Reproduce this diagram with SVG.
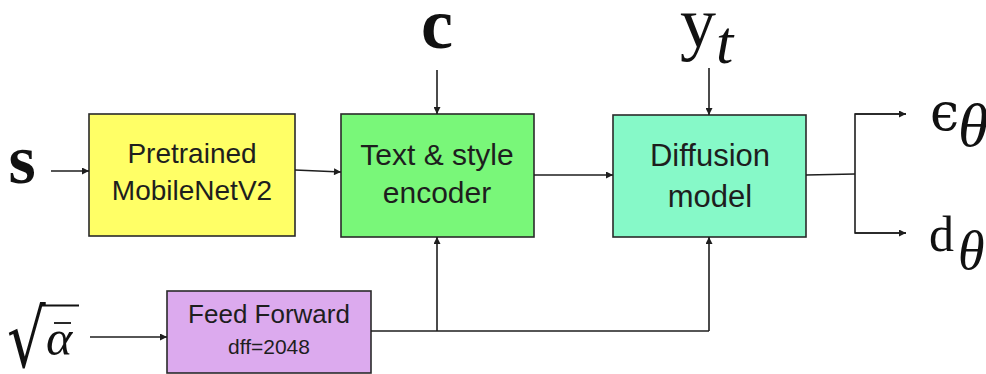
<svg xmlns="http://www.w3.org/2000/svg" width="986" height="374" viewBox="0 0 986 374">
<style>
  .box{stroke:#2a2a2a;stroke-width:1.6}
  .lbl{font-family:"Liberation Sans",Arial,sans-serif;fill:#1e1e1e;text-anchor:middle}
  .math{font-family:"Liberation Serif","DejaVu Serif",serif;fill:#111}
  .conn{fill:none;stroke:#1e1e1e;stroke-width:1.6}
</style>
<defs>
  <marker id="arr" viewBox="0 0 10 10" refX="10" refY="5" markerWidth="8" markerHeight="7" markerUnits="userSpaceOnUse" orient="auto">
    <path d="M0,0 L10,5 L0,10 z" fill="#1e1e1e"/>
  </marker>
</defs>
<rect width="986" height="374" fill="#ffffff"/>

<g id="input-s"><text class="math" x="22" y="183" font-size="70" font-weight="bold" text-anchor="middle">s</text></g>
<g id="input-c"><text class="math" x="437" y="48" font-size="72" font-weight="bold" text-anchor="middle">c</text></g>
<g id="input-yt">
  <text class="math" x="680" y="47" font-size="72">y</text>
  <text class="math" x="716" y="63" font-size="62" font-style="italic">t</text>
</g>
<g id="input-alpha">
  <text transform="translate(7,367) scale(0.76,1)" x="0" y="0" font-family="DejaVu Serif,serif" font-size="80" fill="#111">√</text>
  <line x1="42" y1="305.5" x2="79" y2="305.5" stroke="#111" stroke-width="2"/>
  <text class="math" x="46" y="355" font-size="50" font-style="italic">α</text>
  <line x1="54" y1="323" x2="71" y2="323" stroke="#111" stroke-width="1.8"/>
</g>
<g id="output-eps">
  <text x="930" y="130" font-family="DejaVu Serif,serif" font-size="52" fill="#111">ϵ</text>
  <text class="math" x="958" y="146" font-size="62" font-style="italic">θ</text>
</g>
<g id="output-d">
  <text class="math" x="929" y="251" font-size="50">d</text>
  <text class="math" x="958" y="269" font-size="54" font-style="italic">θ</text>
</g>

<g id="mobilenet">
  <rect class="box" x="89" y="114" width="206" height="122" fill="#ffff66"/>
  <text class="lbl" x="192" y="163" font-size="28">Pretrained</text>
  <text class="lbl" x="192" y="200" font-size="28">MobileNetV2</text>
</g>
<g id="encoder">
  <rect class="box" x="341" y="114" width="193" height="123" fill="#79f779"/>
  <text class="lbl" x="437" y="165" font-size="30">Text &amp; style</text>
  <text class="lbl" x="437" y="203" font-size="30">encoder</text>
</g>
<g id="diffusion">
  <rect class="box" x="613" y="115" width="193" height="122" fill="#86f9c8"/>
  <text class="lbl" x="710" y="166" font-size="31">Diffusion</text>
  <text class="lbl" x="710" y="207" font-size="31">model</text>
</g>
<g id="feedforward">
  <rect class="box" x="167" y="291" width="204" height="82" fill="#dcaaee"/>
  <text class="lbl" x="269" y="323" font-size="26">Feed Forward</text>
  <text class="lbl" x="269" y="354" font-size="21">dff=2048</text>
</g>

<g id="connectors">
  <line class="conn" x1="51" y1="171" x2="89" y2="171" marker-end="url(#arr)"/>
  <line class="conn" x1="295" y1="170" x2="341" y2="172" marker-end="url(#arr)"/>
  <line class="conn" x1="437" y1="70" x2="437" y2="114" marker-end="url(#arr)"/>
  <line class="conn" x1="534" y1="175" x2="613" y2="175" marker-end="url(#arr)"/>
  <line class="conn" x1="709" y1="68" x2="709" y2="115" marker-end="url(#arr)"/>
  <polyline class="conn" points="806,175 855,174"/>
  <polyline class="conn" points="906,114 855,114 855,233 906,233"/>
  <line class="conn" x1="855" y1="114" x2="906" y2="114" marker-end="url(#arr)"/>
  <line class="conn" x1="855" y1="233" x2="906" y2="233" marker-end="url(#arr)"/>
  <line class="conn" x1="90" y1="337" x2="167" y2="337" marker-end="url(#arr)"/>
  <polyline class="conn" points="371,331 709,331"/>
  <line class="conn" x1="437" y1="331" x2="437" y2="237" marker-end="url(#arr)"/>
  <line class="conn" x1="709" y1="331" x2="709" y2="237" marker-end="url(#arr)"/>
</g>
</svg>
